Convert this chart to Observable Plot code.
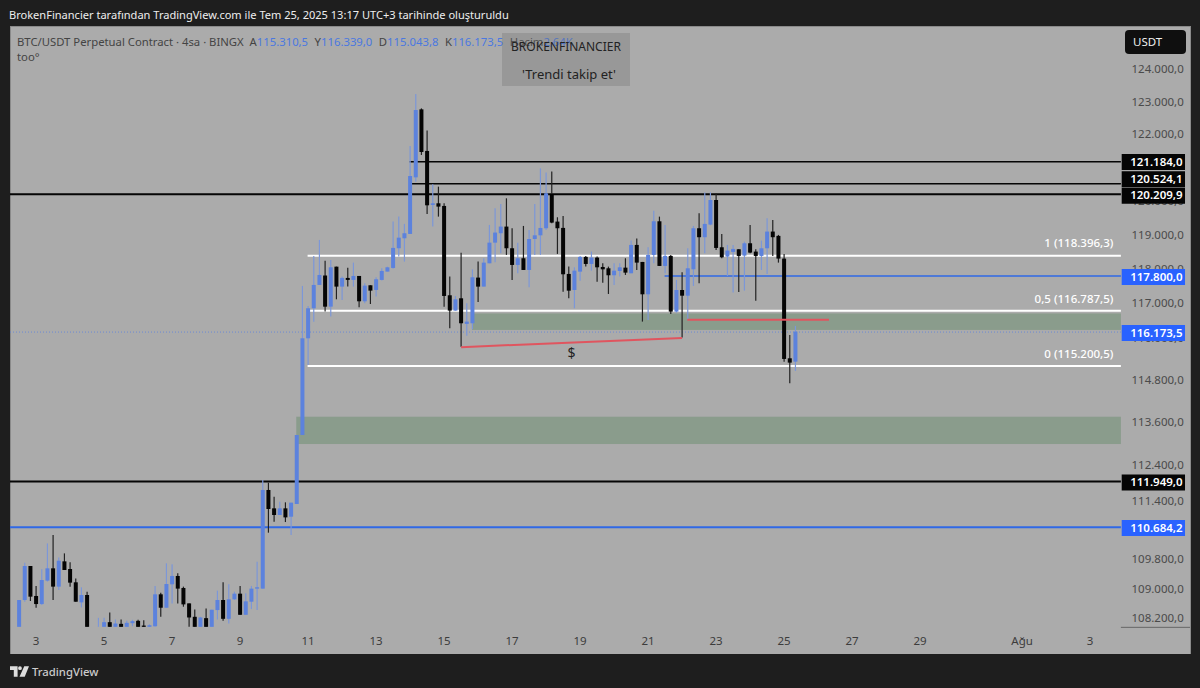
<!DOCTYPE html>
<html lang="tr">
<head>
<meta charset="utf-8">
<script src="https://cdn.jsdelivr.net/npm/d3@7"></script>
<script src="https://cdn.jsdelivr.net/npm/@observablehq/plot@0.6"></script>
<style>
  html,body{margin:0;padding:0;background:#1e1e1e;width:1200px;height:688px;overflow:hidden;font-family:"Noto Sans",sans-serif}
  #head{height:26px;line-height:30px;padding-left:9px;color:#eee;font-size:11.05px;box-sizing:border-box;white-space:nowrap}
  #chart{position:relative;height:628px}
  #chart svg{display:block}
  #legend{position:absolute;left:17px;top:8px;font-size:11.3px;line-height:15px;color:#444;white-space:nowrap}
  #legend b{font-weight:400;color:#4a78e0;margin-right:3.6px}
  #box{position:absolute;left:502px;top:7px;width:128px;height:53px;background:rgba(110,110,110,.3);color:#222;font-size:12px;text-align:center}
  #box div{position:absolute;width:100%;white-space:nowrap}
  #unit{position:absolute;left:1125px;top:4px;width:61px;height:24px;border-radius:4px;background:#0f0f0f;color:#eee;font-size:11.5px;line-height:24px;box-sizing:border-box;padding-left:8px}
  #foot{height:34px;display:flex;align-items:center;padding-left:10px;color:#ccc;font-size:11.3px;font-weight:500}
  #foot svg{margin-right:3px}
</style>
</head>
<body>
<div id="head">BrokenFinancier tarafından TradingView.com ile Tem 25, 2025 13:17 UTC+3 tarihinde oluşturuldu</div>
<div id="chart">
  <div id="legend">BTC/USDT Perpetual Contract · 4sa · BINGX&nbsp; A<b>115.310,5</b> Y<b>116.339,0</b> D<b>115.043,8</b> K<b>116.173,5</b> Hacim<b>2,64K</b><br>too°</div>
  <div id="box"><div style="top:5px">BROKENFINANCIER</div><div style="top:32px;left:3px;font-size:13px">'Trendi takip et'</div></div>
  <div id="unit">USDT</div>
</div>
<div id="foot"><svg width="19" height="11" viewBox="0 0 20 11"><path d="M0 0h8v11H4V4H0zM10.5 0a2 2 0 1 1 0 4a2 2 0 0 1 0-4zM15 0h5l-4.5 11H10z" fill="#ddd"/></svg>TradingView</div>
<script>
// candle values, 4-hour bars from 2 Jul 2025 12:00 UTC, in USDT (cropped at the chart floor where they leave the picture)
const firstCandle = Date.UTC(2025, 6, 2, 12);
const candleOpen = [
107970,108690,109612,108800,108582,109214,109548,109052,109738,109530,
109169,108627,108826,107970,107970,107970,108095,107970,108050,107970,
108068,108131,108004,107970,107986,108844,108483,109115,109341,109016,
108600,108239,107970,108203,107970,108420,108691,108185,108709,108862,
108293,108645,108998,108998,111698,111190,111006,111190,110960,111310,
113231,115980,116847,117525,117800,116894,118059,117476,117729,117671,
117787,117049,117515,117379,117671,117914,118021,118599,118893,119021,
120703,122756,121496,119879,119929,119850,117224,116779,117136,116394,
116413,117739,117476,118157,118764,119041,119238,118599,118109,118305,
117962,118872,118980,119188,120206,119386,119199,117846,117378,117913,
118344,118138,118324,118050,118011,117807,117932,118030,117865,118697,
118197,117252,118403,119395,118080,118373,116750,117378,117212,117981,
119189,118924,119297,120027,118628,118354,118491,118569,118383,118746,
118501,118373,118598,119091,118963,118295,115406,115310.5];
const candleHigh = [
108690,109702,109612,109070,109521,110226,110457,109846,109955,109711,
109269,109034,108916,107970,108212,108212,108357,108167,108167,108131,
108158,108158,108149,108040,109070,108889,109684,109657,109413,109052,
108600,108438,108239,108465,108429,108943,109169,109115,108916,109070,
108871,109070,109729,111975,111901,111513,111375,111356,111347,113231,
117496,116913,118373,118844,118235,118256,118059,117768,118030,118177,
117787,117573,117515,117748,118011,118059,119386,119533,119317,121646,
123221,122786,122110,120495,120425,119929,117768,117204,118470,116990,
117980,118207,118305,119286,119780,119907,120077,119188,118764,119257,
119139,119907,120972,120846,120876,119514,119553,118060,118040,118373,
118373,118501,118353,118158,118060,118158,118158,118305,118825,118883,
118197,118628,119710,119533,119286,118403,117670,117894,118598,119258,
119632,120253,120253,120223,119021,118697,118697,118569,118795,119286,
118569,118825,119484,119435,118992,118432,116076,116339];
const candleLow = [
107970,108645,108664,108483,108555,109187,108691,108962,109503,109052,
108645,108492,107970,107970,107970,107970,107970,107970,107970,107970,
107986,107970,107970,107970,107970,108239,108483,108600,108600,108510,
107970,107970,107970,107970,107970,108167,108131,108059,108691,108293,
108293,108447,108420,108998,110521,110823,111006,110813,110457,111310,
113231,115215,116460,117525,116750,116605,117107,117087,117476,117476,
116875,116990,116971,117185,117651,117914,118000,118354,118207,119021,
120574,121375,119612,119238,119533,116894,116268,116779,115740,116056,
116239,117029,117476,118157,118187,118451,118403,117671,117865,117962,
117457,118403,118403,119139,119336,118432,117329,117136,116846,117650,
118060,117942,117621,117592,117262,117524,117768,117816,117865,117962,
116461,116509,118158,118080,117865,116682,116721,116005,116509,117495,
117573,118451,119277,118549,118305,117787,117301,117320,117358,118451,
117068,117962,117845,118373,118177,115310,114692,115043.8];
const candleClose = [
108690,109612,108781,108582,109232,109548,109052,109756,109503,109160,
108645,108826,107970,107970,107970,108095,107970,108059,107970,108077,
108122,107970,107970,108013,108844,108483,109124,109341,108998,108573,
108221,107970,108221,107970,108429,108691,108185,108709,108862,108293,
108655,108998,109034,111698,111172,111006,111190,110941,111347,113231,
115980,116847,117525,117816,116893,118040,117476,117729,117671,117787,
117049,117505,117359,117690,117933,118040,118609,118911,119041,120743,
122736,121465,119869,119929,119830,117204,116779,117107,116413,116461,
117748,117476,118177,118764,119061,119238,118599,118109,118305,117962,
118872,118980,119198,120226,119356,119189,117836,117358,117942,118344,
118138,118324,118040,117981,117807,117942,118040,117884,118697,118177,
117252,118403,119395,118080,118373,116750,117378,117212,118011,119189,
118924,119317,120027,118608,118334,118530,118579,118373,118746,118471,
118373,118598,119091,118924,118295,115387,115282,116173.5];

// price axis
const priceTicks = [124000,123000,122000,120000,119000,118000,117000,116000,114800,113600,112400,111400,109800,109000,108200];
// price tags at the right edge
const tagPrices = [121184.0,120524.1,120209.9,117800.0,116173.5,111949.0,110684.2];
const tagKinds  = ["black","black","black","blue","blue","black","blue"];
// fibonacci levels
const fibPrices = [118396.3,116787.5,115200.5];
const fibLabels = ["1 (118.396,3)","0,5 (116.787,5)","0 (115.200,5)"];
// date ticks
const dayTicks  = [[2025,6,3],[2025,6,5],[2025,6,7],[2025,6,9],[2025,6,11],[2025,6,13],[2025,6,15],[2025,6,17],[2025,6,19],[2025,6,21],[2025,6,23],[2025,6,25],[2025,6,27],[2025,6,29],[2025,7,1],[2025,7,3]];
const dayLabels = ["3","5","7","9","11","13","15","17","19","21","23","25","27","29","Ağu","3"];
// supply/demand zones: [start, high, low]
const zoneStarts = [Date.UTC(2025,6,15,20), Date.UTC(2025,6,10,16)];
const zoneHighs  = [116697, 113746];
const zoneLows   = [116220, 112978];

const BLUE="#5c82dd", WICKBLUE="#7c97d8", BLACK="#050505", LINEBLUE="#2f68e6", TAGBLUE="#2962ff", RED="#e0555f";

const fmt = d3.formatLocale({decimal:",",thousands:".",grouping:[3]}).format(",.1f");
const candles = candleOpen.map((o,i)=>({t:new Date(firstCandle+i*4*36e5),o,h:candleHigh[i],l:candleLow[i],c:candleClose[i]}));
const up = candles.filter(d=>d.c>=d.o), down = candles.filter(d=>d.c<d.o);

const xStart = new Date(Date.UTC(2025,6,2,5,56)), xEnd = new Date(Date.UTC(2025,7,5,22,52));
const lineEnd = new Date(Date.UTC(2025,7,3,22,5));
const tagX1 = new Date(Date.UTC(2025,7,3,22,39)), tagX2 = new Date(Date.UTC(2025,7,5,19,21));
const fibStart = new Date(Date.UTC(2025,6,11,0));
const tickDates = dayTicks.map(a=>new Date(Date.UTC(...a)));
const yFloor = 107970;

const hline = (price, x1, x2, stroke, strokeWidth, extra={}) =>
  Plot.ruleY([price], {x1, x2, stroke, strokeWidth, ...extra});

const plot = Plot.plot({
  width:1200, height:628,
  marginLeft:10, marginRight:10, marginTop:0, marginBottom:0,
  style:{background:"transparent", fontFamily:'"Noto Sans",sans-serif', fontSize:"11.5px"},
  x:{type:"utc", domain:[xStart,xEnd], label:null},
  y:{type:"log", domain:[107245,125320], label:null},
  marks:[
    Plot.frame({fill:"#ababab", stroke:"#8a8a8a"}),
    Plot.axisY({anchor:"right", ticks:priceTicks, tickFormat:fmt, tickSize:0, tickPadding:-59, label:null, fill:"#4a4a4a", fontSize:11.5}),
    Plot.axisX({anchor:"bottom", ticks:tickDates, tickFormat:d=>dayLabels[tickDates.findIndex(t=>+t===+d)], tickSize:0, tickPadding:-18, label:null, fill:"#3c3c3c", fontSize:11.5}),
    hline(yFloor, lineEnd, xEnd, "#666", 1),
    // zones
    Plot.rect(zoneStarts.map((s,i)=>({s:new Date(s),hi:zoneHighs[i],lo:zoneLows[i]})), {x1:"s", x2:()=>lineEnd, y1:"lo", y2:"hi", fill:"#8a9c8c"}),
    // dotted last price line
    hline(116173.5, xStart, lineEnd, "#5c82dd", 1, {strokeDasharray:"1,2", strokeOpacity:0.8}),
    // horizontal levels
    hline(121184.0, new Date(Date.UTC(2025,6,14)), lineEnd, BLACK, 1.5),
    hline(120524.1, new Date(Date.UTC(2025,6,14)), lineEnd, BLACK, 1.5),
    hline(120209.9, xStart, lineEnd, BLACK, 2),
    hline(111949.0, xStart, lineEnd, BLACK, 2),
    hline(110684.2, xStart, lineEnd, LINEBLUE, 2),
    hline(117800.0, new Date(Date.UTC(2025,6,21,12)), lineEnd, LINEBLUE, 1.5),
    ...fibPrices.map(p=>hline(p, fibStart, lineEnd, "#fff", 2)),
    Plot.text(fibPrices.map((p,i)=>({p,l:fibLabels[i]})), {x:()=>lineEnd, y:"p", text:"l", textAnchor:"end", dx:-8, dy:-12, fill:"#fff", fontSize:11.5, fontWeight:500}),
    // candles
    Plot.ruleX(up,   {x:"t", y1:"l", y2:"h", stroke:WICKBLUE, strokeWidth:1.2}),
    Plot.ruleX(down, {x:"t", y1:"l", y2:"h", stroke:"#222", strokeWidth:1.2}),
    Plot.ruleX(up,   {x:"t", y1:"o", y2:"c", stroke:BLUE, strokeWidth:4}),
    Plot.ruleX(down, {x:"t", y1:"o", y2:"c", stroke:BLACK, strokeWidth:4}),
    // liquidity trend line and level
    Plot.link([{a:new Date(Date.UTC(2025,6,15,12)),pa:115740,b:new Date(Date.UTC(2025,6,22,0)),pb:116005}], {x1:"a", y1:"pa", x2:"b", y2:"pb", stroke:RED, strokeWidth:2}),
    hline(116529, new Date(Date.UTC(2025,6,22,4)), new Date(Date.UTC(2025,6,26,8)), RED, 2),
    Plot.text(["$"], {x:()=>new Date(Date.UTC(2025,6,18,18)), y:()=>115558, fill:"#222", fontSize:14}),
    // price tags
    ...tagPrices.flatMap((p,i)=>{
      const dy = [0.3,-4.5,1.3,1,0.9,1,0.8][i];
      const fill = tagKinds[i]==="blue" ? TAGBLUE : "#050505";
      return [
        Plot.ruleY([p], {x1:tagX1, x2:tagX2, stroke:fill, strokeWidth:16, dy}),
        Plot.text([p], {x:()=>tagX1, y:d=>d, text:fmt, textAnchor:"start", dx:8, dy, fill:"#fff", fontSize:11.5, fontWeight:600})
      ];
    })
  ]
});
document.getElementById("chart").prepend(plot);
</script>
</body>
</html>
